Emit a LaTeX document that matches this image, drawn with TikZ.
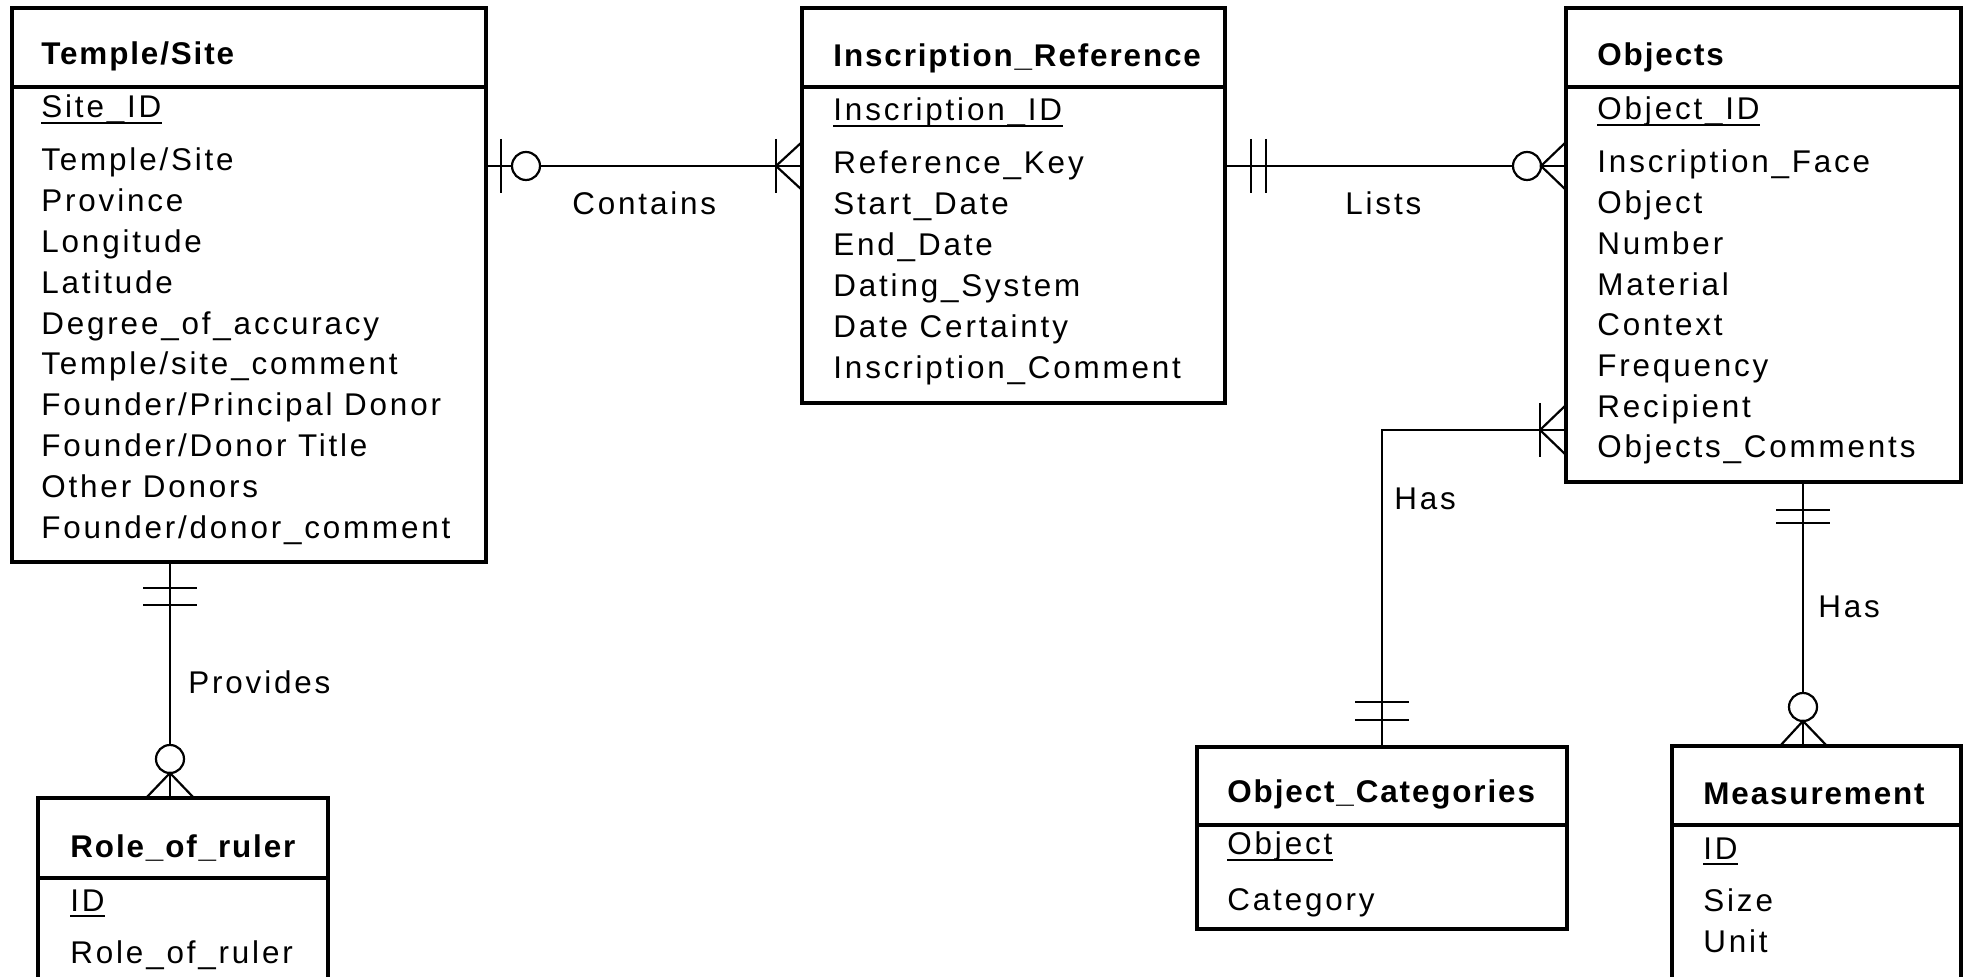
\documentclass[tikz,border=0pt]{standalone}
\usepackage{fontspec}
\setmainfont{Liberation Sans}[LetterSpace=9]
\newfontfamily\titlefont{Liberation Sans}[LetterSpace=6]
\usetikzlibrary{calc}
\tikzset{
  entity/.style={draw, line width=1.6pt, rectangle, inner sep=0pt, outer sep=0pt, anchor=north west, fill=white},
  divider/.style={line width=1.6pt},
  attr/.style={inner sep=0pt, anchor=base west, font=\fontsize{15.7pt}{18pt}\selectfont},
  ttl/.style={inner sep=0pt, anchor=base west, font=\fontsize{15.7pt}{18pt}\selectfont\titlefont\bfseries},
  uline/.style={line width=1.1pt},
  conn/.style={line width=1.4pt},
  mk/.style={line width=1.1pt},
  lbl/.style={inner sep=0pt, anchor=base west, font=\fontsize{15.7pt}{18pt}\selectfont}
}
\begin{document}
\begin{tikzpicture}[x=0.5pt,y=-0.5pt]
\useasboundingbox (0,0) rectangle (1965,977);
\clip (0,0) rectangle (1965,977);
\fill[white] (0,0) rectangle (1965,977);

% ---------- entity boxes ----------
\node[entity, minimum width=237pt, minimum height=277pt] (temple) at (12,8) {};
\node[entity, minimum width=211.5pt, minimum height=197.5pt] (inscr) at (802,8) {};
\node[entity, minimum width=197.5pt, minimum height=237pt] (objects) at (1566,8) {};
\node[entity, minimum width=185pt, minimum height=91pt] (ocat) at (1197,747) {};
\node[entity, minimum width=144.5pt, minimum height=150pt] (meas) at (1672,746) {};
\node[entity, minimum width=145pt, minimum height=125pt] (role) at (38,798) {};

\draw[divider] ($(temple.north west)+(0,79)$) -- ($(temple.north east)+(0,79)$);
\draw[divider] ($(inscr.north west)+(0,79)$) -- ($(inscr.north east)+(0,79)$);
\draw[divider] ($(objects.north west)+(0,79)$) -- ($(objects.north east)+(0,79)$);
\draw[divider] ($(ocat.north west)+(0,78)$) -- ($(ocat.north east)+(0,78)$);
\draw[divider] ($(meas.north west)+(0,79)$) -- ($(meas.north east)+(0,79)$);
\draw[divider] ($(role.north west)+(0,80)$) -- ($(role.north east)+(0,80)$);

% ---------- Temple/Site ----------
\node[ttl] (tT) at (41,65) {Temple/Site};
\node[attr] (tK) at (41,118) {Site\_ID};
\draw[uline] ($(tK.base west)+(0,5)$) -- ($(tK.base east)+(0,5)$);
\foreach \t [count=\i from 0] in {Temple/Site, Province, Longitude, Latitude, Degree\_of\_accuracy, Temple/site\_comment, Founder/Principal Donor, Founder/Donor Title, Other Donors, Founder/donor\_comment}
  \node[attr] (tA\i) at (41,{171+\i*40.8}) {\t};

% ---------- Inscription_Reference ----------
\node[ttl] (iT) at (833,67) {Inscription\_Reference};
\node[attr] (iK) at (833,121) {Inscription\_ID};
\draw[uline] ($(iK.base west)+(0,5)$) -- ($(iK.base east)+(0,5)$);
\foreach \t [count=\i from 0] in {Reference\_Key, Start\_Date, End\_Date, Dating\_System, Date Certainty, Inscription\_Comment}
  \node[attr] (iA\i) at (833,{174+\i*41}) {\t};

% ---------- Objects ----------
\node[ttl] (oT) at (1597,66) {Objects};
\node[attr] (oK) at (1597,120) {Object\_ID};
\draw[uline] ($(oK.base west)+(0,5)$) -- ($(oK.base east)+(0,5)$);
\foreach \t [count=\i from 0] in {Inscription\_Face, Object, Number, Material, Context, Frequency, Recipient, Objects\_Comments}
  \node[attr] (oA\i) at (1597,{173+\i*40.7}) {\t};

% ---------- Object_Categories ----------
\node[ttl] (cT) at (1227,803) {Object\_Categories};
\node[attr] (cK) at (1227,855) {Object};
\draw[uline] ($(cK.base west)+(0,5)$) -- ($(cK.base east)+(0,5)$);
\node[attr] (cA0) at (1227,910) {Category};

% ---------- Measurement ----------
\node[ttl] (mT) at (1703,805) {Measurement};
\node[attr] (mK) at (1703,859) {ID};
\draw[uline] ($(mK.base west)+(0,5)$) -- ($(mK.base east)+(0,5)$);
\node[attr] (mA0) at (1703,911) {Size};
\node[attr] (mA1) at (1703,952) {Unit};

% ---------- Role_of_ruler ----------
\node[ttl] (rT) at (70,857) {Role\_of\_ruler};
\node[attr] (rK) at (70,911) {ID};
\draw[uline] ($(rK.base west)+(0,5)$) -- ($(rK.base east)+(0,5)$);
\node[attr] (rA0) at (70,963) {Role\_of\_ruler};

% ---------- Contains ----------
\coordinate (cA) at ($(temple.north east)+(0,158)$);
\coordinate (cB) at ($(inscr.north west)+(0,158)$);
\draw[conn] (cA) -- (cB);
\draw[mk] ($(cA)+(15,-27)$) -- ($(cA)+(15,27)$);
\draw[mk, fill=white] ($(cA)+(40,0)$) circle[radius=7pt];
\draw[mk] ($(cB)+(-26,-27)$) -- ($(cB)+(-26,27)$);
\draw[mk] ($(cB)+(0,-24)$) -- ($(cB)+(-26,0)$) -- ($(cB)+(0,24)$);
\node[lbl] (lContains) at (572,215) {Contains};

% ---------- Lists ----------
\coordinate (cC) at ($(inscr.north east)+(0,158)$);
\coordinate (cD) at ($(objects.north west)+(0,158)$);
\draw[conn] (cC) -- (cD);
\draw[mk] ($(cC)+(26,-27)$) -- ($(cC)+(26,27)$);
\draw[mk] ($(cC)+(41,-27)$) -- ($(cC)+(41,27)$);
\draw[mk, fill=white] ($(cD)+(-39,0)$) circle[radius=7pt];
\draw[mk] ($(cD)+(0,-24)$) -- ($(cD)+(-25,0)$) -- ($(cD)+(0,24)$);
\node[lbl] (lLists) at (1345,215) {Lists};

% ---------- Has (Object_Categories) ----------
\coordinate (cE) at ($(objects.north west)+(0,422)$);
\coordinate (cF) at ($(ocat.north west)+(185,0)$);
\draw[conn] (cE) -| (cF);
\draw[mk] ($(cE)+(-26,-27)$) -- ($(cE)+(-26,27)$);
\draw[mk] ($(cE)+(0,-25)$) -- ($(cE)+(-26,0)$) -- ($(cE)+(0,25)$);
\draw[mk] ($(cF)+(-27,-45)$) -- ($(cF)+(27,-45)$);
\draw[mk] ($(cF)+(-27,-27)$) -- ($(cF)+(27,-27)$);
\node[lbl] (lHas1) at (1394,510) {Has};

% ---------- Provides ----------
\coordinate (cG) at ($(temple.south west)+(158,0)$);
\coordinate (cH) at ($(role.north west)+(132,0)$);
\draw[conn] (cG) -- (cH);
\draw[mk] ($(cG)+(-27,26)$) -- ($(cG)+(27,26)$);
\draw[mk] ($(cG)+(-27,43)$) -- ($(cG)+(27,43)$);
\draw[mk, fill=white] ($(cH)+(0,-39)$) circle[radius=7pt];
\draw[mk] ($(cH)+(-24,0)$) -- ($(cH)+(0,-25)$) -- ($(cH)+(24,0)$);
\node[lbl] (lProvides) at (188,694) {Provides};

% ---------- Has (Measurement) ----------
\coordinate (cI) at ($(objects.south west)+(237,0)$);
\coordinate (cJ) at ($(meas.north west)+(131,0)$);
\draw[conn] (cI) -- (cJ);
\draw[mk] ($(cI)+(-27,28)$) -- ($(cI)+(27,28)$);
\draw[mk] ($(cI)+(-27,41)$) -- ($(cI)+(27,41)$);
\draw[mk, fill=white] ($(cJ)+(0,-39)$) circle[radius=7pt];
\draw[mk] ($(cJ)+(-23,0)$) -- ($(cJ)+(0,-25)$) -- ($(cJ)+(24,0)$);
\node[lbl] (lHas2) at (1818,618) {Has};
\end{tikzpicture}
\end{document}
